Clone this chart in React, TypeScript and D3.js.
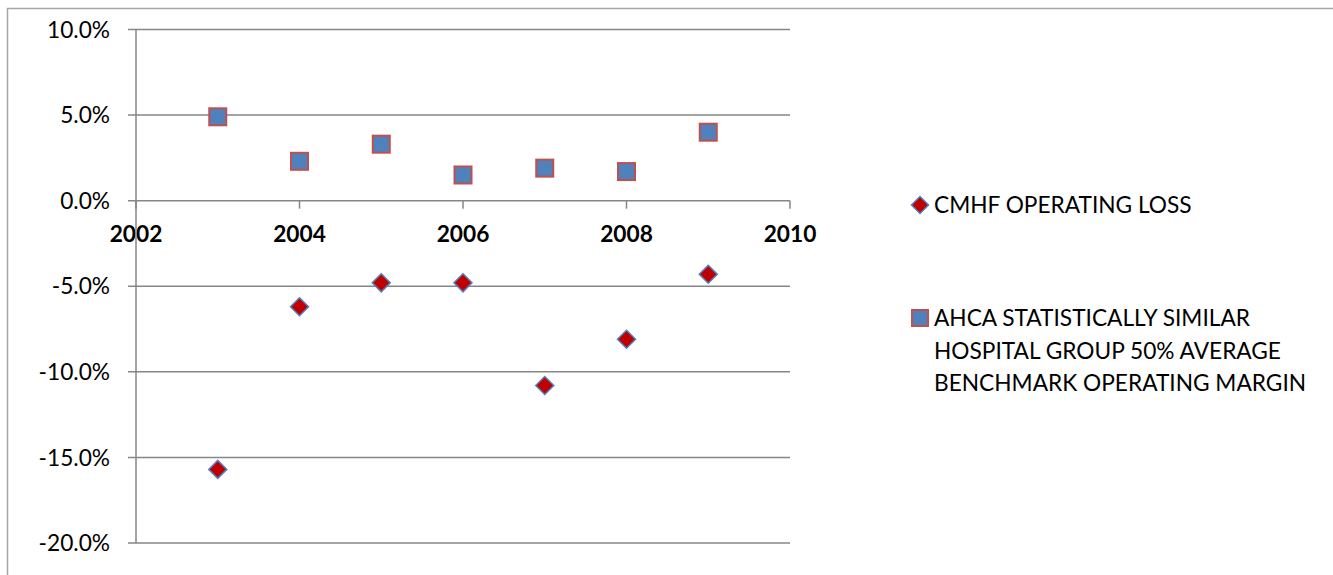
import { useEffect, useRef } from 'react';
import * as d3 from 'd3';

const years = [2003, 2004, 2005, 2006, 2007, 2008, 2009];
const cmhfLoss = [-15.7, -6.2, -4.8, -4.8, -10.8, -8.1, -4.3];
const ahcaMargin = [4.9, 2.3, 3.3, 1.5, 1.9, 1.7, 4.0];
const yTicks = [10, 5, 0, -5, -10, -15, -20];
const xTicks = [2002, 2004, 2006, 2008, 2010];
const legendCmhf = ['CMHF OPERATING LOSS'];
const legendAhca = ['AHCA STATISTICALLY SIMILAR', 'HOSPITAL GROUP 50% AVERAGE', 'BENCHMARK OPERATING MARGIN'];

const W = 1333;
const H = 575;
const FONT = 'Lato, "Open Sans", sans-serif';
const FS = 22.7;

const App = () => {
    const svgRef = useRef(null);

    useEffect(() => {
        const svg = d3.select(svgRef.current);
        svg.selectAll('*').remove();

        const x = d3.scaleLinear().domain([2002, 2010]).range([136, 790]);
        const y = d3.scaleLinear().domain([-20, 10]).range([543, 29.5]);
        const grid = '#868686';
        const pct = d3.formatLocale({ decimal: '.', thousands: ',', grouping: [3], currency: ['', ''], minus: '-' }).format('.1f');

        // outer chart border (runs off the page on the right and bottom)
        svg.append('rect')
            .attr('x', 7.5).attr('y', 8.5).attr('width', W + 20).attr('height', H + 20)
            .attr('fill', 'none').attr('stroke', '#a6a6a6').attr('stroke-width', 1.5);

        // horizontal gridlines + tick marks
        svg.append('g').selectAll('line')
            .data(yTicks)
            .enter().append('line')
            .attr('x1', 128).attr('x2', x(2010))
            .attr('y1', d => y(d)).attr('y2', d => y(d))
            .attr('stroke', grid).attr('stroke-width', 1.5);

        svg.append('g').selectAll('text')
            .data(yTicks)
            .enter().append('text')
            .attr('x', 110).attr('y', d => y(d))
            .attr('dy', '0.36em')
            .attr('text-anchor', 'end')
            .attr('font-family', FONT).attr('font-size', FS).attr('fill', '#000')
            .text(d => pct(d) + '%');

        // x tick labels (bold) along the zero line
        svg.append('g').selectAll('text')
            .data(xTicks)
            .enter().append('text')
            .attr('x', d => x(d)).attr('y', y(0) + 33)
            .attr('dy', '0.36em')
            .attr('text-anchor', 'middle')
            .attr('font-family', FONT).attr('font-size', FS).attr('font-weight', 'bold').attr('fill', '#000')
            .text(d => d);

        svg.append('g').selectAll('line')
            .data(xTicks)
            .enter().append('line')
            .attr('x1', d => x(d)).attr('x2', d => x(d))
            .attr('y1', y(0)).attr('y2', y(0) + 8)
            .attr('stroke', grid).attr('stroke-width', 1.5);

        // y axis line
        svg.append('line')
            .attr('x1', x(2002)).attr('x2', x(2002))
            .attr('y1', y(10)).attr('y2', y(-20))
            .attr('stroke', grid).attr('stroke-width', 1.5);

        const diamond = (cx, cy, r) => `M${cx},${cy - r}L${cx + r},${cy}L${cx},${cy + r}L${cx - r},${cy}Z`;

        svg.append('g').selectAll('rect')
            .data(years)
            .enter().append('rect')
            .attr('x', (d) => x(d) - 8.5)
            .attr('y', (d, i) => y(ahcaMargin[i]) - 8.5)
            .attr('width', 17).attr('height', 17)
            .attr('fill', '#4f81bd').attr('stroke', '#c0504d').attr('stroke-width', 2);

        svg.append('g').selectAll('path')
            .data(years)
            .enter().append('path')
            .attr('d', (d, i) => diamond(x(d), y(cmhfLoss[i]), 9))
            .attr('fill', '#c00000').attr('stroke', '#4f81bd').attr('stroke-width', 1.5);

        // legend
        const leg = svg.append('g').attr('font-family', FONT).attr('font-size', FS).attr('fill', '#000');
        leg.append('path').attr('d', diamond(920, 205, 8.5))
            .attr('fill', '#c00000').attr('stroke', '#4f81bd').attr('stroke-width', 1.5);
        leg.selectAll('text.l1')
            .data(legendCmhf)
            .enter().append('text').attr('class', 'l1')
            .attr('x', 934).attr('y', (d, i) => 212.5 + i * 32.5)
            .text(d => d);

        leg.append('rect').attr('x', 912).attr('y', 310).attr('width', 16).attr('height', 16)
            .attr('fill', '#4f81bd').attr('stroke', '#c0504d').attr('stroke-width', 2);
        leg.selectAll('text.l2')
            .data(legendAhca)
            .enter().append('text').attr('class', 'l2')
            .attr('x', 934).attr('y', (d, i) => 326 + i * 32.5)
            .text(d => d);
    }, []);

    return (
        <svg ref={svgRef} width={W} height={H}
            style={{ position: 'absolute', left: 0, top: 0, display: 'block', background: '#fff' }} />
    );
};

export default App;
